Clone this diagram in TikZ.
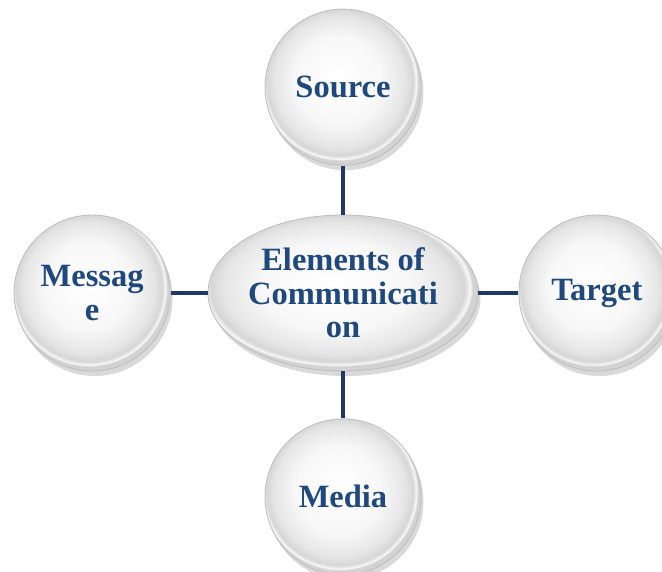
\documentclass[tikz,border=0pt]{standalone}
\usepackage{fontspec}
\setmainfont{Liberation Serif}
\usetikzlibrary{shapes.geometric,shadows,positioning}

\definecolor{textnavy}{RGB}{31,73,125}
\definecolor{linknavy}{RGB}{31,56,100}

% Ombreggiatura lucida
\pgfdeclareradialshading{glossy}{\pgfpoint{-2bp}{3bp}}{%
    color(0bp)=(white); color(14bp)=(white!97!black);
    color(21bp)=(gray!20); color(23.5bp)=(gray!32);
    color(24.6bp)=(gray!6); color(25bp)=(gray!35);
    color(50bp)=(gray!35)}

\begin{document}
\begin{tikzpicture}[
    % Stili dei nodi
    button/.style={
        circle, draw=gray!50, line width=0.5pt,
        shading=glossy,
        drop shadow={shadow xshift=0.5mm, shadow yshift=-1mm, opacity=0.3},
        minimum size=3.12cm, inner sep=0pt,
        align=center, text=textnavy,
        font=\fontsize{18.5}{19}\selectfont\bfseries
    },
    hub/.style={
        button, ellipse,
        minimum width=5.4cm, minimum height=3.12cm
    },
    link/.style={line width=2.6pt, linknavy}
]
\useasboundingbox (0,0) rectangle (13.24,11.42);

% Nodo centrale
\node[hub] (comm) at (6.86,5.56) {Elements of\\Communicati\\on};

% Elementi
\node[button, above=0.98cm of comm] (source) {Source};
\node[button, below=0.94cm of comm] (media) {Media};
\node[button, left=0.74cm of comm] (message) {Messag\\e};
\node[button, right=0.8cm of comm] (target) {Target};

% Connessioni
\draw[link] (comm) -- (source);
\draw[link] (comm) -- (media);
\draw[link] (comm) -- (message);
\draw[link] (comm) -- (target);

\end{tikzpicture}
\end{document}
